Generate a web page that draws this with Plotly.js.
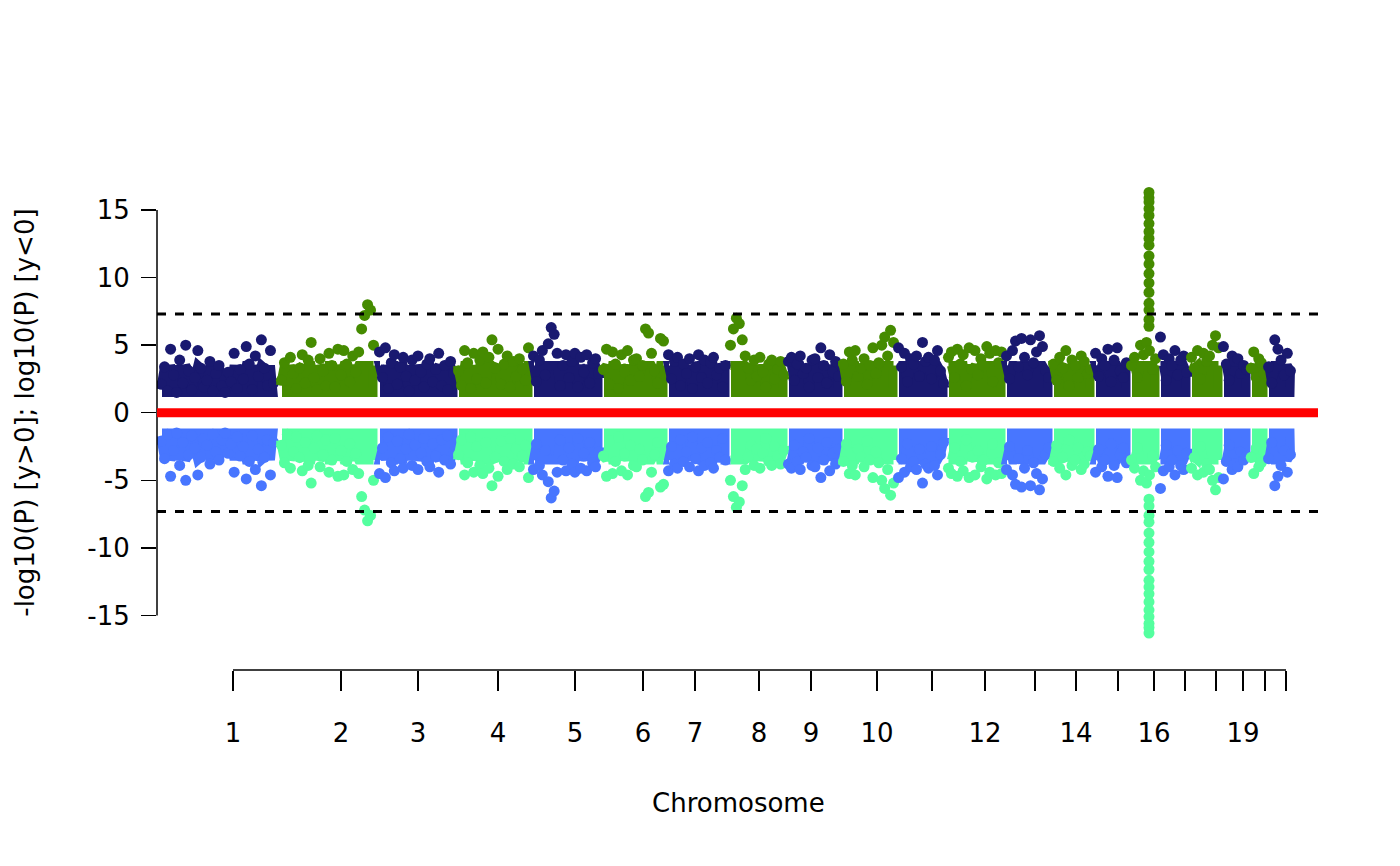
<!DOCTYPE html>
<html><head><meta charset="utf-8">
<script src="https://cdn.plot.ly/plotly-3.0.1.min.js"></script>
<style>body{margin:0;background:#fff}#c{width:1400px;height:866px}</style>
</head><body><div id="c"></div>
<script>
// chromosome extents along the cumulative genome axis
const chrStart = [160,280,378,457,532,602,667,729,787,842,897,947,1005,1052,1094,1130,1159,1190,1222,1250,1267];
const chrEnd   = [275,375,455,530,600,665,727,785,840,895,945,1003,1050,1092,1128,1157,1188,1220,1248,1265,1292];
// -log10(P) values per chromosome (mirrored below as log10(P))
const chrValues = [
 [2.1,3.4,1.6,4.7,2.8,1.5,3.9,2.2,5.0,3.1,1.7,2.6,4.6,3.3,1.9,2.4,3.8,1.6,2.9,3.5,2.0,1.5,3.0,2.3,4.4,1.8,3.2,2.5,4.9,3.6,1.7,4.2,2.7,5.4,3.3,2.0,4.6,2.2],
 [2.4,3.7,1.6,4.1,2.9,1.8,3.3,4.3,2.2,3.9,5.2,2.6,1.7,4.0,3.1,2.0,4.4,3.5,1.9,4.7,2.8,4.6,3.6,2.3,4.2,3.0,4.5,6.2,7.2,8.0,7.6,5.0],
 [4.5,2.6,4.8,1.8,3.7,4.3,2.1,3.4,4.1,2.7,1.6,3.9,2.4,4.2,3.0,1.9,3.6,4.0,2.3,3.2,4.4,2.0,3.5,1.7,3.8,2.9],
 [3.1,2.0,4.6,3.7,1.8,4.4,2.5,3.9,4.5,2.2,4.1,5.4,3.3,4.7,2.1,3.6,4.2,1.9,3.8,2.7,4.0,3.2,2.4,4.8],
 [4.2,2.3,3.9,4.6,2.8,5.1,6.3,5.8,4.4,2.0,3.5,4.3,2.6,3.8,4.4,1.9,4.1,3.0,4.3,2.2,3.7,4.0,2.9],
 [3.2,4.7,2.1,4.5,3.6,1.8,4.3,3.0,4.6,2.4,3.9,4.0,2.7,3.5,6.2,5.9,4.4,3.1,2.2,5.5,5.3],
 [4.3,2.5,3.8,4.1,2.0,3.6,2.9,4.0,1.8,3.4,4.3,2.6,3.9,2.2,3.7,4.1,2.8,3.3,1.9,3.5],
 [5.0,6.2,7.0,6.6,5.4,4.2,3.3,2.4,3.9,2.7,4.1,3.0,1.9,3.6,3.9,2.5,3.2,3.8,2.8],
 [3.8,4.1,2.4,3.6,4.2,2.9,3.3,1.9,3.9,4.0,2.6,4.8,3.5,2.2,4.3,3.0,3.8,2.7],
 [3.6,2.3,4.5,3.9,4.6,2.7,3.3,4.0,2.1,3.5,4.8,2.9,3.7,5.0,5.6,4.2,6.1,5.2],
 [4.8,3.4,4.4,2.3,4.0,3.6,4.2,2.7,5.2,3.8,4.1,2.5,3.9,4.6,3.1,2.2],
 [4.1,4.5,2.6,4.7,3.6,4.3,2.0,4.8,3.2,4.6,2.8,4.0,3.5,4.9,4.4,2.3,4.6,3.7,4.5],
 [4.2,2.5,4.6,5.3,3.4,5.5,4.1,2.8,5.4,3.7,4.5,5.7,4.9,3.1,2.6],
 [3.6,2.4,4.1,3.3,4.6,2.0,3.9,3.5,2.6,4.2,3.8,2.9,3.2],
 [4.4,2.7,4.0,3.5,4.7,2.3,3.9,4.8,3.1,2.6,3.7],
 [3.5,4.1,2.6,5.0,4.3,5.2,4.6,3.2,4.0],
 [5.6,4.3,2.4,4.0,3.5,4.6,2.8,3.9,4.2,3.0],
 [4.1,3.3,4.6,2.5,4.4,3.8,4.2,5.0,5.7,4.8],
 [4.9,3.6,2.4,4.2,3.8,4.0,2.9,3.5,3.2],
 [3.3,4.5,2.6,4.0,3.7,2.9],
 [3.4,2.2,5.4,4.7,3.9,2.8,4.4,3.1]
];
// strong association column on chromosome 16
const peak16Pos = 1149;
const peak16 = [6.4,6.9,7.6,8.1,8.9,9.6,10.3,11.0,11.6,12.4,12.9,13.4,14.0,14.6,15.1,15.6,15.9,16.3];
const tickPos = [233,341,418,498,575,643,695,759,811,877,932,985,1035,1076,1118,1154,1185,1216,1243,1265,1286];
const tickText = ["1","2","3","4","5","6","7","8","9","10","","12","","14","","16","","","19","",""];
const threshold = 7.3;
const bandFloor = 1.5, bandCap = 3.5;

const upCols = ["#191970","#458B00"], dnCols = ["#4876FF","#54FF9F"];
const traces = [];
chrValues.forEach((vals,i)=>{
  const n = vals.length, w = (chrEnd[i]-chrStart[i])/n;
  const xs = vals.map((v,k)=>chrStart[i]+(k+0.5)*w);
  let ys = vals.slice(), xx = xs.slice();
  if (i===15){ peak16.forEach(v=>{xx.push(peak16Pos); ys.push(v);}); }
  [1,-1].forEach(s=>{
    const col = (s>0?upCols:dnCols)[i%2];
    const bx = [chrStart[i]+2].concat(xs, [chrEnd[i]-2, chrEnd[i]-2, chrStart[i]+2]);
    const by = [Math.min(vals[0],bandCap)].concat(vals.map(v=>Math.min(v,bandCap)), [Math.min(vals[n-1],bandCap), bandFloor, bandFloor]).map(v=>s*v);
    traces.push({type:'scatter',mode:'lines',x:bx,y:by,fill:'toself',fillcolor:col,line:{color:col,width:9,shape:'linear'},hoverinfo:'skip'});
    traces.push({type:'scatter',mode:'markers',x:xx,y:ys.map(v=>s*v),hoverinfo:'skip',marker:{color:col,size:11}});
  });
});
traces.push({type:'scatter',x:[tickPos[0]],y:[0],xaxis:'x2',mode:'markers',marker:{opacity:0},hoverinfo:'skip'});

const layout = {
  width:1400,height:866,showlegend:false,paper_bgcolor:'#fff',plot_bgcolor:'#fff',
  margin:{l:157,r:80,t:183,b:196},
  font:{family:'DejaVu Sans',size:26,color:'#000'},
  xaxis:{range:[157,1320],visible:false,fixedrange:true},
  xaxis2:{range:[157,1320],overlaying:'x',anchor:'free',position:0,side:'bottom',
    tickmode:'array',tickvals:tickPos,ticktext:tickText,ticks:'outside',ticklen:20,tickwidth:1.5,
    tickcolor:'#000',showgrid:false,zeroline:false,showline:false,ticklabelstandoff:20,
    tickfont:{size:26}},
  yaxis:{domain:[0.0565,1],range:[-17,17],tickvals:[-15,-10,-5,0,5,10,15],ticktext:['-15','-10','-5','0','5','10','15'],
    ticks:'outside',ticklen:15,tickwidth:1.5,tickcolor:'#000',showgrid:false,zeroline:false,showline:false,
    ticklabelstandoff:6,tickfont:{size:26}},
  shapes:[
    {type:'line',xref:'paper',yref:'y',x0:0,x1:0,y0:-15,y1:15,line:{color:'#000',width:1.5}},
    {type:'line',xref:'x',yref:'paper',x0:tickPos[0],x1:tickPos[tickPos.length-1],y0:0,y1:0,line:{color:'#000',width:1.5}},
    {type:'line',xref:'x',yref:'y',x0:157,x1:1320,y0:threshold,y1:threshold,line:{color:'#000',width:3,dash:'dash'}},
    {type:'line',xref:'x',yref:'y',x0:157,x1:1320,y0:-threshold,y1:-threshold,line:{color:'#000',width:3,dash:'dash'}},
    {type:'line',xref:'x',yref:'y',x0:157,x1:1318,y0:0,y1:0,line:{color:'#FF0000',width:9}}
  ],
  annotations:[
    {text:'Chromosome',xref:'paper',yref:'paper',x:(738-157)/1163,y:-(820-670)/487,showarrow:false,font:{size:26}},
    {text:'-log10(P) [y>0]; log10(P) [y<0]',xref:'paper',yref:'y',x:-(157-25)/1163,xanchor:'center',y:0,textangle:-90,showarrow:false,font:{size:26}}
  ]
};
Plotly.newPlot('c',traces,layout,{displayModeBar:false,staticPlot:true});
</script></body></html>
